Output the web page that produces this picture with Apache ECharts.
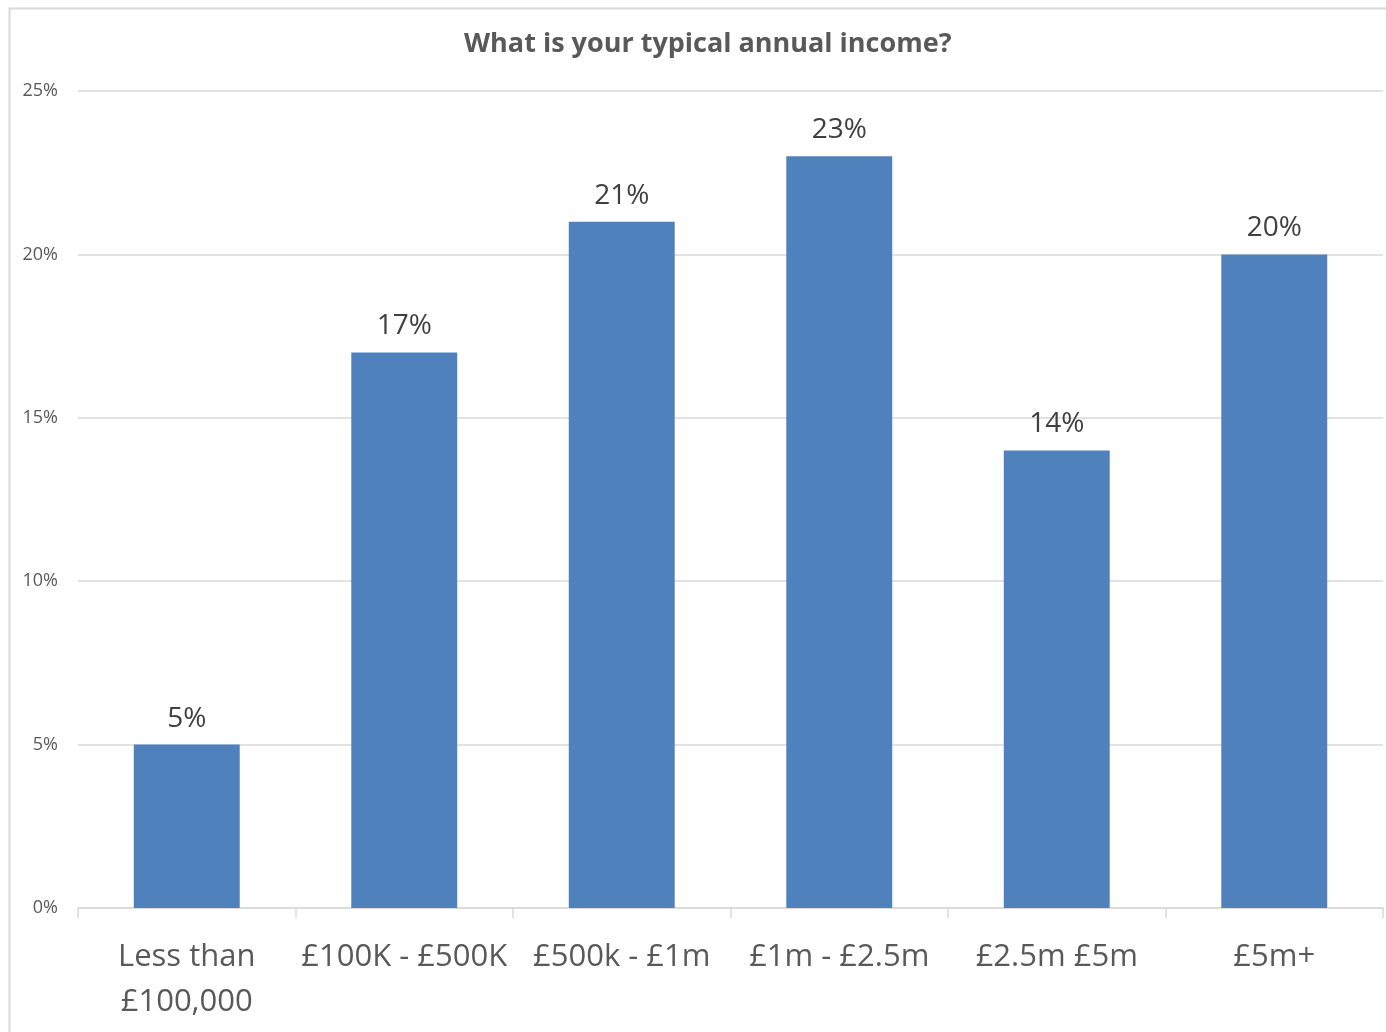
<!DOCTYPE html>
<html>
<head>
<meta charset="utf-8">
<script src="https://cdn.jsdelivr.net/npm/echarts@6/dist/echarts.min.js"></script>
<style>
  html, body { margin: 0; padding: 0; background: #ffffff; }
  #chart { width: 1386px; height: 1032px; }
</style>
</head>
<body>
<div id="chart"></div>
<script>
// Income bands surveyed and share of respondents in each
const categories = ['Less than\n£100,000', '£100K - £500K', '£500k - £1m', '£1m - £2.5m', '£2.5m £5m', '£5m+'];
const shares = [0.05, 0.17, 0.21, 0.23, 0.14, 0.20];
const yTicks = [0, 0.05, 0.10, 0.15, 0.20, 0.25];

const pct = v => Math.round(v * 100) + '%';
const font = '"Open Sans", "Liberation Sans", sans-serif';

const chart = echarts.init(document.getElementById('chart'), null, { renderer: 'canvas' });
chart.setOption({
  backgroundColor: '#ffffff',
  animation: false,
  graphic: [{
    type: 'rect',
    left: 7, top: 6,
    shape: { width: 1400, height: 1100 },
    style: { fill: 'none', stroke: '#d9d9d9', lineWidth: 2 },
    silent: true
  }],
  title: {
    text: 'What is your typical annual income?',
    left: 459,
    top: 26,
    textStyle: { fontFamily: font, fontWeight: 'bold', fontSize: 27, color: '#595959' }
  },
  grid: { left: 78, right: 3, top: 91, bottom: 124, containLabel: false },
  xAxis: {
    type: 'category',
    data: categories,
    boundaryGap: true,
    axisLine: { lineStyle: { color: '#d9d9d9', width: 1.5 } },
    axisTick: { show: true, length: 10, lineStyle: { color: '#d9d9d9', width: 1.5 } },
    axisLabel: {
      interval: 0,
      margin: 27,
      fontFamily: font,
      fontSize: 31,
      lineHeight: 45,
      color: '#595959',
      align: 'center'
    }
  },
  yAxis: {
    type: 'value',
    min: 0,
    max: yTicks[yTicks.length - 1],
    interval: yTicks[1] - yTicks[0],
    axisLine: { show: false },
    axisTick: { show: false },
    splitLine: { lineStyle: { color: '#d9d9d9', width: 1.5 } },
    axisLabel: {
      formatter: pct,
      margin: 20,
      fontFamily: font,
      fontSize: 18,
      color: '#595959'
    }
  },
  series: [{
    type: 'bar',
    data: shares,
    barWidth: '48.7%',
    itemStyle: { color: '#4F81BD' },
    label: {
      show: true,
      position: 'top',
      distance: 12,
      formatter: p => pct(p.value),
      fontFamily: font,
      fontSize: 28,
      color: '#404040'
    }
  }]
});
</script>
</body>
</html>
